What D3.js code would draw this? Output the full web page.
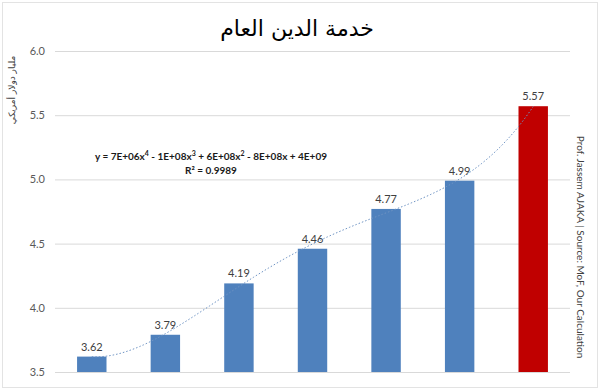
<!DOCTYPE html>
<html>
<head>
<meta charset="utf-8">
<script src="https://cdn.jsdelivr.net/npm/d3@7"></script>
<style>
  body { margin: 0; background: #fff; }
  text { font-family: Lato, "Open Sans", sans-serif; }
</style>
</head>
<body>
<div class="canvas"></div>
<script>
// data
const categories = ['1', '2', '3', '4', '5', '6', '7'];
const values = [3.62, 3.79, 4.19, 4.46, 4.77, 4.99, 5.57];
const highlight = [false, false, false, false, false, false, true];
const yTicks = [3.5, 4.0, 4.5, 5.0, 5.5, 6.0];
const title = 'خدمة الدين العام';
const yTitle = 'مليار دولار أمريكي';
const sourceNote = 'Prof. Jassem AJAKA | Source: MoF, Our Calculation';
const equation = ['y = 7E+06x', '4', ' - 1E+08x', '3', ' + 6E+08x', '2', ' - 8E+08x + 4E+09'];
const rSquared = 'R² = 0.9989';

const width = 600;
const height = 390;

const svg = d3.select('.canvas')
  .append('svg')
  .attr('width', width)
  .attr('height', height);

// chart border
svg.append('rect')
  .attr('x', 2.5).attr('y', 2.5)
  .attr('width', width - 5).attr('height', height - 5)
  .attr('fill', '#fff')
  .attr('stroke', '#e3e3e3');

const margin = { top: 51, right: 30, bottom: 18, left: 55 };
const graphWidth = width - margin.left - margin.right;
const graphHeight = height - margin.top - margin.bottom;

const graph = svg.append('g')
  .attr('transform', `translate(${margin.left}, ${margin.top})`);

// scales
const x = d3.scaleBand()
  .domain(categories)
  .range([0, graphWidth])
  .paddingInner(0.6)
  .paddingOuter(0.3);

const y = d3.scaleLinear()
  .domain([3.5, 6.0])
  .range([graphHeight, 0]);

// gridlines + tick labels
const yAxis = d3.axisLeft(y)
  .tickValues(yTicks)
  .tickSize(-graphWidth)
  .tickPadding(10)
  .tickFormat(d3.format('.1f'));

const yAxisGroup = graph.append('g').call(yAxis);
yAxisGroup.select('.domain').remove();
yAxisGroup.selectAll('.tick line').attr('stroke', '#d9d9d9');
yAxisGroup.selectAll('.tick text')
  .attr('fill', '#595959')
  .style('font-size', '11px');

// bars
graph.selectAll('rect.bar')
  .data(values)
  .enter()
  .append('rect')
  .attr('class', 'bar')
  .attr('x', (d, i) => x(categories[i]))
  .attr('width', x.bandwidth())
  .attr('y', d => y(d))
  .attr('height', d => graphHeight - y(d))
  .attr('fill', (d, i) => (highlight[i] ? '#c00000' : '#4f81bd'));

// value labels
graph.selectAll('text.val')
  .data(values)
  .enter()
  .append('text')
  .attr('class', 'val')
  .attr('x', (d, i) => x(categories[i]) + x.bandwidth() / 2)
  .attr('y', d => y(d) - 6)
  .attr('text-anchor', 'middle')
  .attr('fill', '#404040')
  .style('font-size', '11px')
  .text(d => d.toFixed(2));

// polynomial trendline (order 4, least squares like excel)
const polyFit = (xs, ys, order) => {
  const n = order + 1;
  const A = [];
  for (let r = 0; r < n; r++) {
    A.push([]);
    for (let c = 0; c < n; c++) A[r].push(d3.sum(xs, xv => xv ** (r + c)));
    A[r].push(d3.sum(xs, (xv, k) => ys[k] * xv ** r));
  }
  for (let p = 0; p < n; p++) {
    let m = p;
    for (let r = p + 1; r < n; r++) if (Math.abs(A[r][p]) > Math.abs(A[m][p])) m = r;
    [A[p], A[m]] = [A[m], A[p]];
    for (let r = 0; r < n; r++) {
      if (r === p) continue;
      const f = A[r][p] / A[p][p];
      for (let c = p; c <= n; c++) A[r][c] -= f * A[p][c];
    }
  }
  return A.map((row, i) => row[n] / row[i]);
};

const xs = values.map((d, i) => i + 1);
const coef = polyFit(xs, values, 4);
const evalPoly = t => coef.reduce((s, c, i) => s + c * t ** i, 0);

const trendPts = d3.range(1, 7.001, 0.05).map(t => [t, evalPoly(t)]);
const xPos = t => x(categories[0]) + x.bandwidth() / 2 + (t - 1) * x.step();

graph.append('path')
  .datum(trendPts)
  .attr('fill', 'none')
  .attr('stroke', '#6f94c4')
  .attr('stroke-width', 1)
  .attr('stroke-dasharray', '1.5,2')
  .attr('d', d3.line().x(d => xPos(d[0])).y(d => y(d[1])));

// equation text
const eq = svg.append('text')
  .attr('x', 211)
  .attr('y', 160)
  .attr('text-anchor', 'middle')
  .attr('fill', '#1a1a1a')
  .style('font-size', '10px')
  .style('font-weight', 'bold');
equation.forEach((s, i) => {
  const span = eq.append('tspan').text(s);
  if (i % 2 === 1) span.attr('dy', -4).style('font-size', '7px');
  else if (i > 0) span.attr('dy', 4);
});

svg.append('text')
  .attr('x', 211)
  .attr('y', 174)
  .attr('text-anchor', 'middle')
  .attr('fill', '#1a1a1a')
  .style('font-size', '10px')
  .style('font-weight', 'bold')
  .text(rSquared);

// title
svg.append('text')
  .attr('x', 297)
  .attr('y', 36)
  .attr('text-anchor', 'middle')
  .attr('fill', '#000')
  .style('font-family', '"DejaVu Sans", sans-serif')
  .style('font-size', '22px')
  .text(title);

// y axis title
svg.append('text')
  .attr('transform', 'translate(15, 90) rotate(-90)')
  .attr('text-anchor', 'middle')
  .attr('fill', '#404040')
  .style('font-family', '"DejaVu Sans", sans-serif')
  .style('font-size', '9px')
  .text(yTitle);

// source note
svg.append('text')
  .attr('transform', 'translate(577, 247) rotate(90)')
  .attr('text-anchor', 'middle')
  .attr('fill', '#404040')
  .style('font-size', '10px')
  .text(sourceNote);
</script>
</body>
</html>
